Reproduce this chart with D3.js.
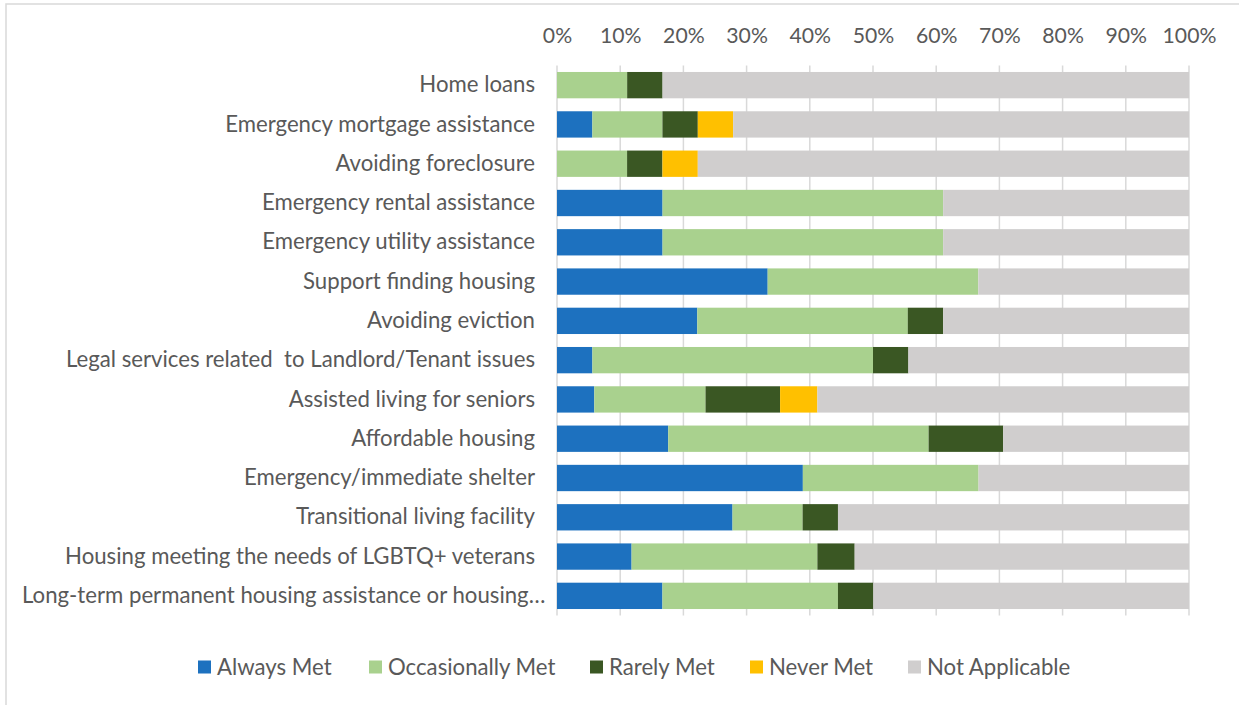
<!DOCTYPE html>
<html>
<head>
<meta charset="utf-8">
<script src="https://cdn.jsdelivr.net/npm/d3@7"></script>
<style>
  html, body { margin: 0; padding: 0; background: #fff; }
  svg { display: block; }
  text { font-family: Lato, "Open Sans", sans-serif; fill: #595959; }
</style>
</head>
<body>
<svg id="chart" width="1239" height="705"></svg>
<script>
// Housing needs: share of responses per service (percent of respondents)
const categories = [
  "Home loans",
  "Emergency mortgage assistance",
  "Avoiding foreclosure",
  "Emergency rental assistance",
  "Emergency utility assistance",
  "Support finding housing",
  "Avoiding eviction",
  "Legal services related  to Landlord/Tenant issues",
  "Assisted living for seniors",
  "Affordable housing",
  "Emergency/immediate shelter",
  "Transitional living facility",
  "Housing meeting the needs of LGBTQ+ veterans",
  "Long-term permanent housing assistance or housing…"
];
const alwaysMet       = [0, 5.6, 0, 16.7, 16.7, 33.3, 22.2, 5.6, 5.9, 17.6, 38.9, 27.8, 11.8, 16.7];
const occasionallyMet = [11.1, 11.1, 11.1, 44.4, 44.4, 33.3, 33.3, 44.4, 17.6, 41.2, 27.8, 11.1, 29.4, 27.8];
const rarelyMet       = [5.6, 5.6, 5.6, 0, 0, 0, 5.6, 5.6, 11.8, 11.8, 0, 5.6, 5.9, 5.6];
const neverMet        = [0, 5.6, 5.6, 0, 0, 0, 0, 0, 5.9, 0, 0, 0, 0, 0];
const notApplicable   = [83.3, 72.2, 77.8, 38.9, 38.9, 33.3, 38.9, 44.4, 58.8, 29.4, 33.3, 55.6, 52.9, 50.0];

const seriesNames  = ["Always Met", "Occasionally Met", "Rarely Met", "Never Met", "Not Applicable"];
const seriesColors = ["#1d71bf", "#a9d18e", "#3a5723", "#ffc000", "#d0cece"];
const tickValues   = [0, 0.1, 0.2, 0.3, 0.4, 0.5, 0.6, 0.7, 0.8, 0.9, 1.0];

const columns = [alwaysMet, occasionallyMet, rarelyMet, neverMet, notApplicable];
const rows = categories.map((c, i) => {
  const r = { category: c };
  seriesNames.forEach((s, j) => { r[s] = columns[j][i]; });
  return r;
});

const svg = d3.select("#chart");
const LABEL_FONT = "22.2px";
const TICK_FONT = "21.2px";

// outer chart frame
svg.append("rect")
  .attr("x", 6).attr("y", 4)
  .attr("width", 1300).attr("height", 800)
  .attr("fill", "none").attr("stroke", "#d9d9d9").attr("stroke-width", 1.5);

const plot = { left: 557, right: 1189, top: 65.5, bottom: 615.5, labelLeft: 22 };

const x = d3.scaleLinear().domain([0, 1]).range([plot.left, plot.right]);
const y = d3.scaleBand().domain(categories).range([plot.top, plot.bottom]).paddingInner(0.33).paddingOuter(0.165);

const stack = d3.stack().keys(seriesNames).offset(d3.stackOffsetExpand);
const stacked = stack(rows);

// vertical gridlines
svg.append("g")
  .selectAll("line")
  .data(tickValues)
  .join("line")
  .attr("x1", d => x(d)).attr("x2", d => x(d))
  .attr("y1", plot.top).attr("y2", plot.bottom)
  .attr("stroke", "#d9d9d9").attr("stroke-width", 1.5);

// top percentage axis
const xAxis = d3.axisTop(x).tickValues(tickValues).tickFormat(d3.format(".0%")).tickSize(0).tickPadding(0);
const gx = svg.append("g").attr("transform", `translate(0, 43)`).call(xAxis);
gx.select(".domain").remove();
gx.selectAll("text").style("font-size", TICK_FONT).attr("fill", "#595959").attr("font-family", null);

// bars
svg.append("g")
  .selectAll("g")
  .data(stacked)
  .join("g")
  .attr("fill", (d, i) => seriesColors[i])
  .selectAll("rect")
  .data(d => d)
  .join("rect")
  .attr("x", d => x(d[0]))
  .attr("width", d => Math.max(0, x(d[1]) - x(d[0])))
  .attr("y", d => y(d.data.category))
  .attr("height", y.bandwidth());

// category labels
const yAxis = d3.axisLeft(y).tickSize(0).tickPadding(22);
const gy = svg.append("g").attr("transform", `translate(${plot.left}, 0)`).call(yAxis);
gy.select(".domain").remove();
gy.selectAll("text")
  .style("font-size", LABEL_FONT).style("white-space", "pre")
  .attr("fill", "#595959").attr("font-family", null)
  .each(function () {
    // a label too long for the margin starts at the left edge instead
    const len = this.getComputedTextLength();
    const avail = plot.left - 22 - plot.labelLeft;
    if (len > avail) {
      d3.select(this).attr("text-anchor", "start").attr("x", plot.labelLeft - plot.left);
    }
  });

// legend
const legend = svg.append("g").attr("transform", "translate(0, 667)");
const legendX = [198, 369, 590, 750, 908];
const items = legend.selectAll("g")
  .data(seriesNames)
  .join("g")
  .attr("transform", (d, i) => `translate(${legendX[i]}, 0)`);
items.append("rect")
  .attr("x", 0).attr("y", -6.5)
  .attr("width", 13).attr("height", 13)
  .attr("fill", (d, i) => seriesColors[i]);
items.append("text")
  .attr("x", 19).attr("dy", "0.35em")
  .style("font-size", LABEL_FONT)
  .text(d => d);
</script>
</body>
</html>
